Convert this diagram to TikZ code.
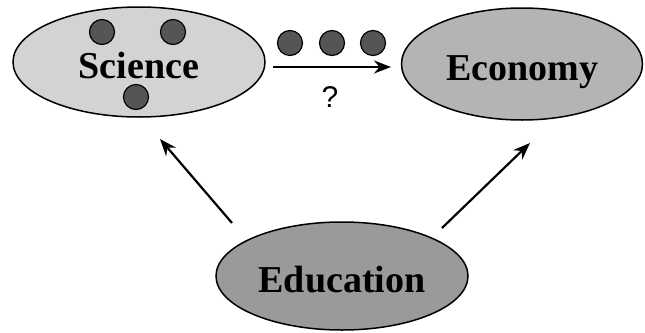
\documentclass[tikz,border=0pt]{standalone}
\usepackage{fontspec}
\setmainfont{Liberation Serif}
\newfontfamily\qfont{Liberation Sans}
\usetikzlibrary{shapes.geometric,arrows.meta}
\definecolor{scifill}{HTML}{D3D3D3}
\definecolor{ecofill}{HTML}{B4B4B4}
\definecolor{edufill}{HTML}{9A9A9A}
\definecolor{dotfill}{HTML}{555555}
\tikzset{
  blob/.style={ellipse, draw=black, line width=1.5pt, inner sep=0pt,
    font=\fontsize{38}{44}\selectfont\bfseries, text height=36pt, text depth=3pt},
  dot/.style={circle, draw=black, line width=1.2pt, fill=dotfill, minimum size=25pt, inner sep=0pt},
  link/.style={line width=2.2pt, -{Stealth[length=17pt,width=13pt]}}
}
\begin{document}
\begin{tikzpicture}[x=1pt,y=-1pt]
\useasboundingbox (0,0) rectangle (645,332);
\node[blob, fill=scifill, minimum width=252pt, minimum height=110pt] (sci) at (139,62) {Science};
\node[dot] (d1) at (102,32) {};
\node[dot] (d2) at (173,32) {};
\node[dot] (d3) at (136,97) {};
\node[blob, fill=ecofill, minimum width=241pt, minimum height=112pt] (eco) at (522,64) {Economy};
\node[blob, fill=edufill, minimum width=252pt, minimum height=108pt] (edu) at (342,276) {Education};
\node[dot] (d4) at (290,43) {};
\node[dot] (d5) at (332,43) {};
\node[dot] (d6) at (373,43) {};
\coordinate (a1s) at (273,67);
\coordinate (a1e) at (391,67);
\node[font=\fontsize{30}{34}\selectfont\qfont, inner sep=0pt] (q) at (330,97) {?};
\draw[link] (a1s) -- (a1e);
\coordinate (a2s) at (232,223);
\coordinate (a2e) at (160,139);
\coordinate (a3s) at (442,228);
\coordinate (a3e) at (530,143);
\draw[link] (a2s) -- (a2e);
\draw[link] (a3s) -- (a3e);
\end{tikzpicture}
\end{document}
